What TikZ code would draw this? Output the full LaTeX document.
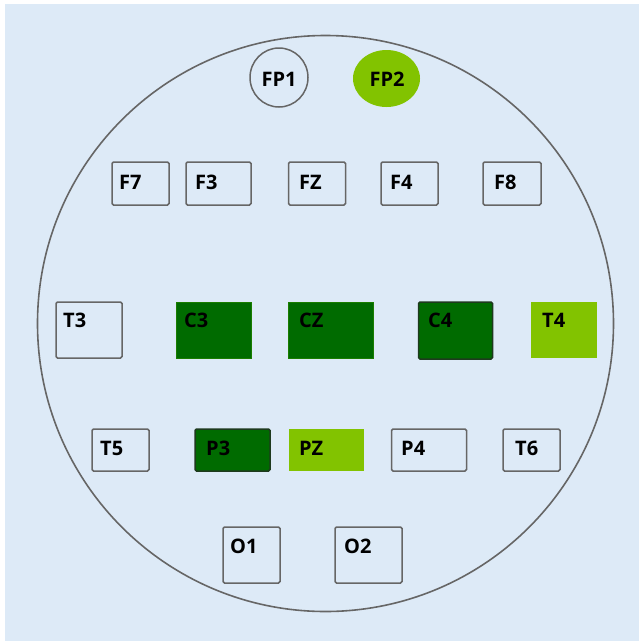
\documentclass[tikz,border=0pt]{standalone}
\usepackage{fontspec}
\setmainfont{Open Sans}
\usetikzlibrary{shapes.geometric}
\definecolor{bgblue}{HTML}{DDEAF7}
\definecolor{edgegray}{HTML}{666666}
\definecolor{dkgreen}{HTML}{006B00}
\definecolor{ltgreen}{HTML}{82C300}
\definecolor{dkedge}{HTML}{1E3A1E}
\begin{document}
\begin{tikzpicture}[x=1pt,y=-1pt,
  ebox/.style={draw=edgegray, line width=1.5pt, rounded corners=1.5pt, inner sep=0pt},
  dbox/.style={fill=dkgreen, draw=dkgreen!80!ltgreen, line width=0.8pt, inner sep=0pt},
  dboxe/.style={fill=dkgreen, draw=dkedge, line width=1.5pt, rounded corners=1.5pt, inner sep=0pt},
  lbox/.style={fill=ltgreen, draw=none, inner sep=0pt},
  lbl/.style={anchor=west, inner sep=0pt, font=\fontsize{20}{23}\selectfont\bfseries, text=black}]
\useasboundingbox (0,0) rectangle (639,641);
\fill[white] (0,0) rectangle (639,641);
\fill[bgblue] (5,4) rectangle (639,641);
\draw[edgegray, line width=1.6pt] (325.5,323.5) circle[radius=288];
% FP row
\node[ellipse, draw=edgegray, line width=1.5pt, minimum width=58, minimum height=59, inner sep=0pt] (FP1) at (279,77.5) {};
\node[lbl, anchor=center] (FP1t) at (279,79) {FP1};
\node[ellipse, fill=ltgreen, minimum width=67, minimum height=57, inner sep=0pt] (FP2) at (386.5,78.5) {};
\node[lbl, anchor=center] (FP2t) at (387,79) {FP2};
% F row
\node[ebox, minimum width=57, minimum height=43] (F7) at (140.5,183.5) {};
\node[lbl] (F7t) at (119,182) {F7};
\node[ebox, minimum width=65, minimum height=43] (F3) at (218.5,183.5) {};
\node[lbl] (F3t) at (195,182) {F3};
\node[ebox, minimum width=57, minimum height=43] (FZ) at (317,183.5) {};
\node[lbl] (FZt) at (299,182) {FZ};
\node[ebox, minimum width=57, minimum height=43] (F4) at (409.5,183.5) {};
\node[lbl] (F4t) at (390,182) {F4};
\node[ebox, minimum width=58, minimum height=43] (F8) at (512,183.5) {};
\node[lbl] (F8t) at (494,182) {F8};
% T/C row
\node[ebox, minimum width=66, minimum height=56] (T3) at (89,330) {};
\node[lbl] (T3t) at (63,320) {T3};
\node[dbox, minimum width=75, minimum height=56] (C3) at (214,330) {};
\node[lbl] (C3t) at (184,320) {C3};
\node[dbox, minimum width=85, minimum height=56] (CZ) at (331,330) {};
\node[lbl] (CZt) at (299,320) {CZ};
\node[dboxe, minimum width=74, minimum height=57] (C4) at (455.5,330.5) {};
\node[lbl] (C4t) at (428,320) {C4};
\node[lbox, minimum width=66, minimum height=56] (T4) at (564,330) {};
\node[lbl] (T4t) at (542,320) {T4};
% P row
\node[ebox, minimum width=57, minimum height=42] (T5) at (120.5,450) {};
\node[lbl] (T5t) at (100,448) {T5};
\node[dboxe, minimum width=75, minimum height=42] (P3) at (232.5,450) {};
\node[lbl] (P3t) at (206,448) {P3};
\node[lbox, minimum width=75, minimum height=42] (PZ) at (326,450) {};
\node[lbl] (PZt) at (299,448) {PZ};
\node[ebox, minimum width=75, minimum height=42] (P4) at (429,450) {};
\node[lbl] (P4t) at (401,448) {P4};
\node[ebox, minimum width=57, minimum height=42] (T6) at (531.5,450) {};
\node[lbl] (T6t) at (515,448) {T6};
% O row
\node[ebox, minimum width=57, minimum height=56] (O1) at (251.5,555) {};
\node[lbl] (O1t) at (230,546) {O1};
\node[ebox, minimum width=67, minimum height=56] (O2) at (368.5,555) {};
\node[lbl] (O2t) at (344,546) {O2};
\end{tikzpicture}
\end{document}
